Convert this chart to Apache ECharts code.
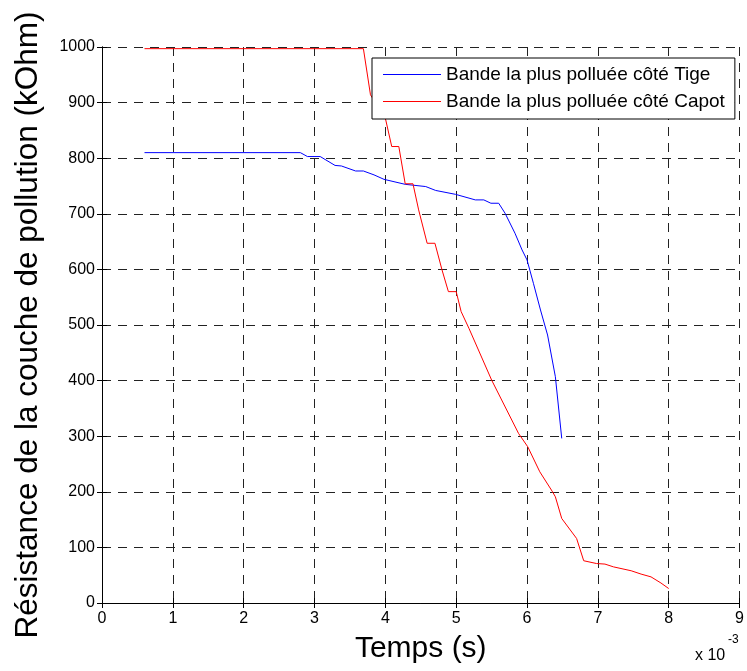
<!DOCTYPE html>
<html>
<head>
<meta charset="utf-8">
<script src="https://cdn.jsdelivr.net/npm/echarts@6/dist/echarts.min.js"></script>
<style>html,body{margin:0;padding:0;background:#fff;}#c{width:747px;height:671px;}</style>
</head>
<body>
<div id="c"></div>
<script>
// Time in units of 1e-3 s
var tigeT = [0.6, 2.80, 2.90, 3.08, 3.29, 3.38, 3.58, 3.69, 3.84, 3.98, 4.28, 4.57, 4.71, 4.99, 5.27, 5.39, 5.49, 5.60, 5.69, 5.83, 5.93, 6.0, 6.09, 6.19, 6.29, 6.40, 6.49];
var tigeV = [810, 810, 803, 803, 787, 786, 777, 777, 770, 762, 753, 749, 742, 735, 725, 725, 719, 719, 701, 665, 635, 617, 575, 527, 482, 407, 296];
var capotT = [0.6, 3.69, 3.79, 4.0, 4.09, 4.19, 4.28, 4.39, 4.47, 4.59, 4.70, 4.80, 4.89, 5.0, 5.07, 5.18, 5.50, 5.88, 6.01, 6.18, 6.36, 6.40, 6.49, 6.70, 6.80, 6.98, 7.10, 7.22, 7.47, 7.61, 7.75, 7.89, 8.0];
var capotV = [997, 997, 914, 872, 821, 821, 754, 754, 707, 647, 647, 599, 560, 560, 524, 494, 401, 305, 281, 236, 200, 191, 152, 116, 76, 71, 70, 65, 58, 52, 47, 36, 26];
var seriesNames = ['Bande la plus polluée côté Tige', 'Bande la plus polluée côté Capot'];
var xTicks = [0, 1, 2, 3, 4, 5, 6, 7, 8, 9];
var yTicks = [0, 100, 200, 300, 400, 500, 600, 700, 800, 900, 1000];

function zip(a, b) { return a.map(function (v, i) { return [v, b[i]]; }); }

var FONT = 'Liberation Sans, Arial, sans-serif';
var chart = echarts.init(document.getElementById('c'), null, { renderer: 'canvas' });
var axisLine = { show: true, lineStyle: { color: '#000', width: 1 } };
var tick = { show: true, inside: true, length: 5, lineStyle: { color: '#000' } };
var split = { show: true, lineStyle: { color: '#222', type: [9, 7], width: 1 } };

chart.setOption({
  animation: false,
  backgroundColor: '#fff',
  grid: { left: 102, right: 5, top: 47, bottom: 68, containLabel: false },
  xAxis: [{
    type: 'value', min: xTicks[0], max: xTicks[xTicks.length - 1], interval: 1,
    axisLine: axisLine, axisTick: tick, splitLine: split,
    axisLabel: { color: '#000', fontSize: 16, fontFamily: FONT, margin: 8, formatter: function (v) { return String(v); } },
    name: 'Temps (s)', nameLocation: 'middle', nameGap: 31,
    nameTextStyle: { color: '#000', fontSize: 30, fontFamily: FONT }
  }, {
    type: 'value', position: 'top', min: xTicks[0], max: xTicks[xTicks.length - 1], interval: 1,
    axisLine: axisLine, axisTick: tick, splitLine: { show: false }, axisLabel: { show: false }
  }],
  yAxis: [{
    type: 'value', min: yTicks[0], max: yTicks[yTicks.length - 1], interval: 100,
    axisLine: axisLine, axisTick: tick, splitLine: split,
    axisLabel: { color: '#000', fontSize: 16, fontFamily: FONT, margin: 7, formatter: function (v) { return String(v); } },
    name: 'Résistance de la couche de pollution (kOhm)', nameLocation: 'middle', nameGap: 58,
    nameTextStyle: { color: '#000', fontSize: 31.5, fontFamily: FONT }
  }, {
    type: 'value', position: 'right', min: yTicks[0], max: yTicks[yTicks.length - 1], interval: 100,
    axisLine: axisLine, axisTick: tick, splitLine: { show: false }, axisLabel: { show: false }
  }],
  legend: {
    orient: 'vertical', left: 372, top: 58,
    padding: [7, 10, 8, 11], itemGap: 8, itemWidth: 58, itemHeight: 1, icon: 'rect',
    backgroundColor: '#fff', borderColor: '#000', borderWidth: 1, borderRadius: 0,
    textStyle: { color: '#000', fontSize: 19, fontFamily: FONT, lineHeight: 19 },
    data: seriesNames
  },
  series: [{
    name: seriesNames[0], type: 'line', data: zip(tigeT, tigeV), symbol: 'none',
    lineStyle: { color: '#0000ff', width: 1 }, itemStyle: { color: '#0000ff' }
  }, {
    name: seriesNames[1], type: 'line', data: zip(capotT, capotV), symbol: 'none',
    lineStyle: { color: '#ff0000', width: 1 }, itemStyle: { color: '#ff0000' }
  }],
  graphic: [{
    type: 'text', left: 695, top: 648,
    style: { text: 'x 10', fill: '#000', font: '16px ' + FONT }
  }, {
    type: 'text', left: 728, top: 634,
    style: { text: '-3', fill: '#000', font: '12px ' + FONT }
  }]
});
</script>
</body>
</html>
